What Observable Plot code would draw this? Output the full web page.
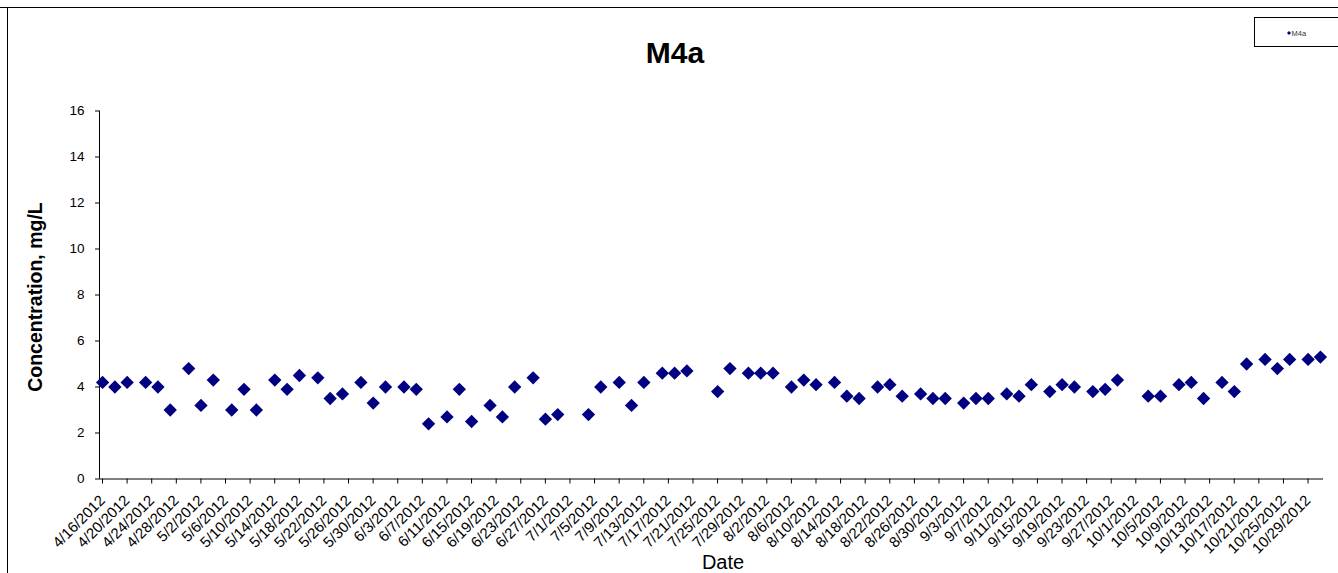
<!DOCTYPE html>
<html>
<head>
<meta charset="utf-8">
<script src="https://cdn.jsdelivr.net/npm/d3@7"></script>
<script src="https://cdn.jsdelivr.net/npm/@observablehq/plot@0.6"></script>
<style>
  html, body { margin: 0; padding: 0; background: #fff; }
  #chart { width: 1338px; height: 573px; overflow: hidden; }
</style>
</head>
<body>
<div id="chart"></div>
<script>
const sampleDates = [
  "2012-04-16","2012-04-18","2012-04-20","2012-04-23","2012-04-25","2012-04-27","2012-04-30",
  "2012-05-02","2012-05-04","2012-05-07","2012-05-09","2012-05-11","2012-05-14","2012-05-16",
  "2012-05-18","2012-05-21","2012-05-23","2012-05-25","2012-05-28","2012-05-30","2012-06-01",
  "2012-06-04","2012-06-06","2012-06-08","2012-06-11","2012-06-13","2012-06-15","2012-06-18",
  "2012-06-20","2012-06-22","2012-06-25","2012-06-27","2012-06-29","2012-07-04","2012-07-06",
  "2012-07-09","2012-07-11","2012-07-13","2012-07-16","2012-07-18","2012-07-20","2012-07-25",
  "2012-07-27","2012-07-30","2012-08-01","2012-08-03","2012-08-06","2012-08-08","2012-08-10",
  "2012-08-13","2012-08-15","2012-08-17","2012-08-20","2012-08-22","2012-08-24","2012-08-27",
  "2012-08-29","2012-08-31","2012-09-03","2012-09-05","2012-09-07","2012-09-10","2012-09-12",
  "2012-09-14","2012-09-17","2012-09-19","2012-09-21","2012-09-24","2012-09-26","2012-09-28",
  "2012-10-03","2012-10-05","2012-10-08","2012-10-10","2012-10-12","2012-10-15","2012-10-17",
  "2012-10-19","2012-10-22","2012-10-24","2012-10-26","2012-10-29","2012-10-31"
];
const m4aValues = [
  4.2,4.0,4.2,4.2,4.0,3.0,4.8,
  3.2,4.3,3.0,3.9,3.0,4.3,3.9,
  4.5,4.4,3.5,3.7,4.2,3.3,4.0,
  4.0,3.9,2.4,2.7,3.9,2.5,3.2,
  2.7,4.0,4.4,2.6,2.8,2.8,4.0,
  4.2,3.2,4.2,4.6,4.6,4.7,3.8,
  4.8,4.6,4.6,4.6,4.0,4.3,4.1,
  4.2,3.6,3.5,4.0,4.1,3.6,3.7,
  3.5,3.5,3.3,3.5,3.5,3.7,3.6,
  4.1,3.8,4.1,4.0,3.8,3.9,4.3,
  3.6,3.6,4.1,4.2,3.5,4.2,3.8,
  5.0,5.2,4.8,5.2,5.2,5.3
];
const yTicks = [0,2,4,6,8,10,12,14,16];
const xStart = "2012-04-16";
const xEnd = "2012-11-01";
const tickStep = 4; // days between date-axis ticks
const seriesName = "M4a";

const HALF_DAY = 12 * 3600 * 1000;
const parse = s => new Date(s + "T00:00:00Z");
const data = sampleDates.map((d, i) => ({date: new Date(parse(d).getTime() + HALF_DAY), value: m4aValues[i]}));
const x0 = parse(xStart), x1 = parse(xEnd);
const xTicks = [];
for (let t = x0; t < x1; t = d3.utcDay.offset(t, tickStep)) xTicks.push(t);
const fmt = d => `${d.getUTCMonth() + 1}/${d.getUTCDate()}/${d.getUTCFullYear()}`;

const FONT = "'Liberation Sans', Arial, sans-serif";
const W = 1338, H = 573;
const ML = 99, MR = 15, MT = 110.5, MB = 94.5;

const plot = Plot.plot({
  width: W, height: H,
  marginLeft: ML, marginRight: MR, marginTop: MT, marginBottom: MB,
  style: {fontFamily: FONT, fontSize: "13px", color: "#000", background: "#fff"},
  x: {type: "utc", domain: [x0, x1]},
  y: {domain: [0, 16]},
  marks: [
    Plot.axisY({ticks: yTicks, tickSize: 4, tickPadding: 11, label: null, fontSize: 13.5, stroke: "#000"}),
    Plot.axisX({ticks: xTicks, tickFormat: fmt, tickSize: 5, tickPadding: 14, dx: 3, tickRotate: -45, label: null, fontSize: 15, stroke: "#000"}),
    Plot.ruleY([0], {stroke: "#000", strokeWidth: 1}),
    Plot.ruleX([x0], {stroke: "#000", strokeWidth: 1}),
    Plot.dot(data, {x: "date", y: "value", symbol: "diamond2", r: 6, fill: "#000080", stroke: "none"})
  ]
});

const svg = d3.select(plot);
// outer chart frame lines
svg.append("line").attr("x1", 0).attr("x2", W).attr("y1", 7.5).attr("y2", 7.5).attr("stroke", "#000").attr("stroke-width", 1);
svg.append("line").attr("x1", 7.5).attr("x2", 7.5).attr("y1", 7.5).attr("y2", H).attr("stroke", "#000").attr("stroke-width", 1);
// title
svg.append("text").attr("x", 675).attr("y", 63).attr("text-anchor", "middle")
  .attr("font-family", FONT).attr("font-size", 30).attr("font-weight", "bold").text(seriesName);
// y axis title
svg.append("text").attr("transform", "translate(42,297) rotate(-90)").attr("text-anchor", "middle")
  .attr("font-family", FONT).attr("font-size", 19.5).attr("font-weight", "bold").text("Concentration, mg/L");
// x axis title
svg.append("text").attr("x", 723).attr("y", 569).attr("text-anchor", "middle")
  .attr("font-family", FONT).attr("font-size", 20).text("Date");
// legend
svg.append("rect").attr("x", 1254.5).attr("y", 17.5).attr("width", 90).attr("height", 29)
  .attr("fill", "#fff").attr("stroke", "#000").attr("stroke-width", 1);
svg.append("path").attr("d", d3.symbol(d3.symbolDiamond2, 10)()).attr("transform", "translate(1289,33)").attr("fill", "#000080");
svg.append("text").attr("x", 1291.5).attr("y", 35.5).attr("text-anchor", "start")
  .attr("font-family", FONT).attr("font-size", 7.5).attr("fill", "#333").text(seriesName);

document.getElementById("chart").appendChild(plot);
</script>
</body>
</html>
